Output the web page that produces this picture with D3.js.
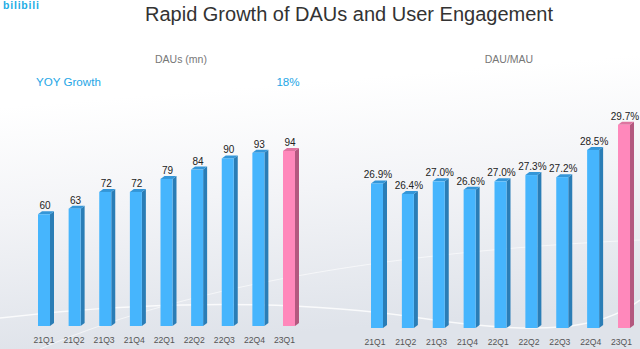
<!DOCTYPE html>
<html><head><meta charset="utf-8">
<script src="https://cdn.jsdelivr.net/npm/d3@7"></script>
<style>html,body{margin:0;padding:0;background:#fff;overflow:hidden}svg{display:block}</style>
</head><body>
<svg id="c" width="640" height="349"></svg>
<script>
const categories = ["21Q1","21Q2","21Q3","21Q4","22Q1","22Q2","22Q3","22Q4","23Q1"];
const dauValues = [60,63,72,72,79,84,90,93,94];
const dauLabels = ["60","63","72","72","79","84","90","93","94"];
const ratioValues = [26.9,26.4,27.0,26.6,27.0,27.3,27.2,28.5,29.7];
const ratioLabels = ["26.9%","26.4%","27.0%","26.6%","27.0%","27.3%","27.2%","28.5%","29.7%"];
const highlight = "23Q1";

const svg = d3.select("#c");
const font = "Liberation Sans, Arial, sans-serif";

// background
const defs = svg.append("defs");
const g1 = defs.append("linearGradient").attr("id","bg").attr("x1",0).attr("y1",0).attr("x2",0.15).attr("y2",1);
g1.append("stop").attr("offset","0").attr("stop-color","#ffffff");
g1.append("stop").attr("offset","0.3").attr("stop-color","#ffffff");
g1.append("stop").attr("offset","0.6").attr("stop-color","#f3f4f7");
g1.append("stop").attr("offset","1").attr("stop-color","#dfe3ea");
svg.append("rect").attr("width",640).attr("height",349).attr("fill","url(#bg)");
// faint swooshes
svg.append("path").attr("d","M0,318 C150,300 300,300 420,318 S600,330 640,300")
  .attr("fill","none").attr("stroke","#ffffff").attr("stroke-width",1.5).attr("opacity",0.8);
svg.append("path").attr("d","M40,349 C200,280 420,250 640,240")
  .attr("fill","none").attr("stroke","#ffffff").attr("stroke-width",1).attr("opacity",0.6);

// logo
svg.append("text").attr("x",3).attr("y",9).attr("font-family",font).attr("font-weight","bold")
  .attr("font-size",10.5).attr("letter-spacing",0.8).attr("fill","#23ade5").text("bilibili");

// title
svg.append("text").attr("x",349).attr("y",21).attr("text-anchor","middle").attr("font-family",font)
  .attr("font-size",20).attr("fill","#333").text("Rapid Growth of DAUs and User Engagement");

svg.append("text").attr("x",181).attr("y",63).attr("text-anchor","middle").attr("font-family",font)
  .attr("font-size",10.5).attr("fill","#777").text("DAUs (mn)");
svg.append("text").attr("x",509).attr("y",63).attr("text-anchor","middle").attr("font-family",font)
  .attr("font-size",10.5).attr("fill","#777").text("DAU/MAU");
svg.append("text").attr("x",36).attr("y",86).attr("font-family",font)
  .attr("font-size",11.6).attr("fill","#1ea6e6").text("YOY Growth");
svg.append("text").attr("x",288).attr("y",86).attr("text-anchor","middle").attr("font-family",font)
  .attr("font-size",11.6).attr("fill","#1ea6e6").text("18%");

const W = 12, DX = 4, DY = 3;
const colors = {
  blue: {front:"#46b5fd", side:"#2a7db6", top:"#3496d8"},
  pink: {front:"#ff88bb", side:"#b3587f", top:"#de74a0"}
};

function drawChart(values, labels, x, xl, y, labelY) {
  const g = svg.append("g");
  const base = y.range()[0];
  categories.forEach((c,i) => {
    const col = c === highlight ? colors.pink : colors.blue;
    const x0 = x(c), top = y(values[i]);
    g.append("path").attr("fill", col.side)
      .attr("d", `M${x0+W},${top} L${x0+W+DX},${top-DY} L${x0+W+DX},${base-DY} L${x0+W},${base} Z`);
    g.append("path").attr("fill", col.top)
      .attr("d", `M${x0},${top} L${x0+DX},${top-DY} L${x0+W+DX},${top-DY} L${x0+W},${top} Z`);
    g.append("rect").attr("x", x0).attr("y", top).attr("width", W).attr("height", base-top).attr("fill", col.front);
    g.append("text").attr("x", x0+W/2+1).attr("y", top-5).attr("text-anchor","middle")
      .attr("font-family",font).attr("font-size",10).attr("fill","#222").text(labels[i]);
  });
  const ax = d3.axisBottom(xl).tickSize(0).tickPadding(0);
  const a = svg.append("g").attr("transform",`translate(0,${labelY})`).call(ax);
  a.select(".domain").remove();
  a.selectAll("text").attr("font-family",font).attr("font-size",8.6).attr("fill","#555").attr("dy",0);
}

const xL = d3.scalePoint().domain(categories).range([38, 283]);
const xLl = d3.scalePoint().domain(categories).range([43.5, 284]);
const yL = d3.scaleLinear().domain([0,100]).range([326, 139.8]);
drawChart(dauValues, dauLabels, xL, xLl, yL, 343);

const xR = d3.scalePoint().domain(categories).range([371, 618]);
const xRl = d3.scalePoint().domain(categories).range([374.5, 621]);
const yR = d3.scaleLinear().domain([20,30]).range([328, 118.5]);
drawChart(ratioValues, ratioLabels, xR, xRl, yR, 345);
</script>
</body></html>
